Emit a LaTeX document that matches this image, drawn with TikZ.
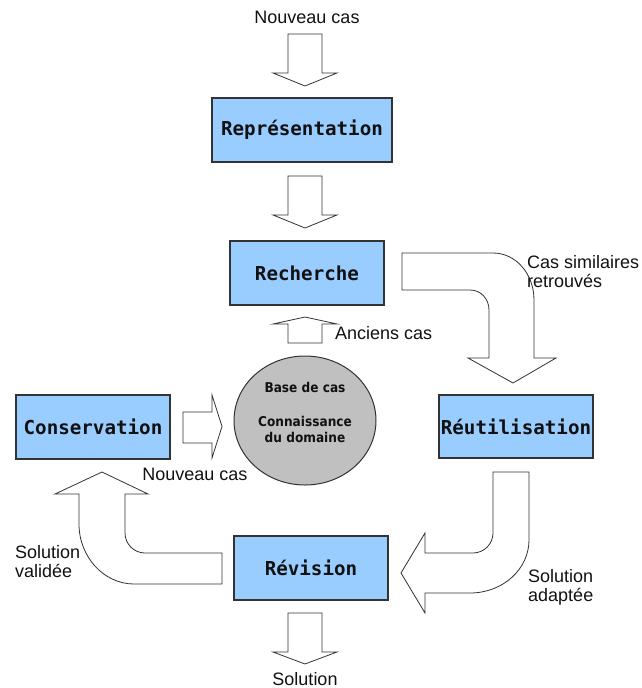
\documentclass[tikz,border=0pt]{standalone}
\usepackage{fontspec}
\setmainfont{Liberation Sans}
\newfontfamily\stagefont{DejaVu Sans Mono}
\newfontfamily\basefont[FakeStretch=0.9]{DejaVu Sans}
\usetikzlibrary{shapes.geometric}
\definecolor{cink}{HTML}{111111}
\definecolor{cline}{HTML}{333333}
\definecolor{cstage}{HTML}{99CCFF}
\definecolor{cbase}{HTML}{C0C0C0}

\tikzset{
  stage/.style={draw=cline,line width=1.2pt,fill=cstage,text=cink,
    minimum width=154pt,minimum height=64pt,inner sep=0pt,
    font=\stagefont\bfseries\fontsize{19.2}{19}\selectfont},
  blockarrow/.style={draw=cline,fill=white,line width=0.8pt,line join=miter},
  lbl/.style={text=cink,inner sep=0pt,align=left,font=\fontsize{18}{19}\selectfont},
  basetext/.style={text=cink,inner sep=0pt,align=center,
    font=\basefont\bfseries\fontsize{13.5}{16}\selectfont}
}

\begin{document}
\begin{tikzpicture}[x=1pt,y=-1pt]
  \useasboundingbox (0,0) rectangle (641,688);

  % stages of the cycle
  \node[stage,minimum width=180pt] (repr) at (302,130) {Représentation};
  \node[stage] (rech) at (307,273) {Recherche};
  \node[stage,minimum height=63pt] (reut) at (516,426.5) {Réutilisation};
  \node[stage] (revi) at (311,568) {Révision};
  \node[stage] (cons) at (93,427) {Conservation};

  % case base
  \node[ellipse,draw=cline,line width=1pt,fill=cbase,minimum width=142pt,
    minimum height=129pt,inner sep=0pt] (base) at (305,420.5) {};
  \node[basetext] (basecas) at ([yshift=33.5pt]base.center) {Base de cas};
  \node[basetext] (domaine) at ([yshift=-8.5pt]base.center) {Connaissance\\du domaine};

  % straight block arrows
  \foreach \xa/\ya/\yb/\yc in {305/34/73/86, 305/176/215/228, 305/613/652/664} {
    \draw[blockarrow] (\xa-17,\ya) -- (\xa+17,\ya) -- (\xa+17,\yb) -- (\xa+32,\yb)
      -- (\xa,\yc) -- (\xa-32,\yb) -- (\xa-17,\yb) -- cycle;
  }
  \draw[blockarrow] (288,343) -- (322,343) -- (322,324) -- (337,324) -- (305,317)
    -- (273,324) -- (288,324) -- cycle;
  \draw[blockarrow] (183,412) -- (212,412) -- (212,395) -- (222,426.5) -- (212,458)
    -- (212,443) -- (183,443) -- cycle;

  % bent block arrows
  \draw[blockarrow] (402,253) -- (493,253) .. controls (516,253) and (534,274) .. (534,300)
    -- (534,358) -- (556,358) -- (513,383) -- (468,358) -- (489,358) -- (489,310)
    .. controls (489,299) and (481,290) .. (470,290) -- (402,290) -- cycle;
  \draw[blockarrow] (493,472) -- (529,472) -- (529,540) .. controls (529,569) and (503,593) .. (470,593)
    -- (425,593) -- (425,613) -- (401,573) -- (425,533) -- (425,553) -- (473,553)
    .. controls (484,553) and (493,544) .. (493,533) -- cycle;
  \draw[blockarrow] (222,553) -- (222,584) -- (134,584) .. controls (104,584) and (79,557) .. (79,524)
    -- (79,494) -- (55,494) -- (102,472) -- (148,494) -- (125,494) -- (125,533)
    .. controls (125,544) and (134,553) .. (145,553) -- cycle;

  % labels
  \node[lbl] (newcase) at (307,17) {Nouveau cas};
  \node[lbl,anchor=west] (similar) at (527,272) {Cas similaires\\retrouvés};
  \node[lbl,anchor=west] (oldcase) at (335,333) {Anciens cas};
  \node[lbl] (newcasebis) at (195,474) {Nouveau cas};
  \node[lbl,anchor=west] (validated) at (15,562) {Solution\\validée};
  \node[lbl,anchor=west] (adapted) at (528,587) {Solution\\adaptée};
  \node[lbl] (solution) at (305,679) {Solution};
\end{tikzpicture}
\end{document}
